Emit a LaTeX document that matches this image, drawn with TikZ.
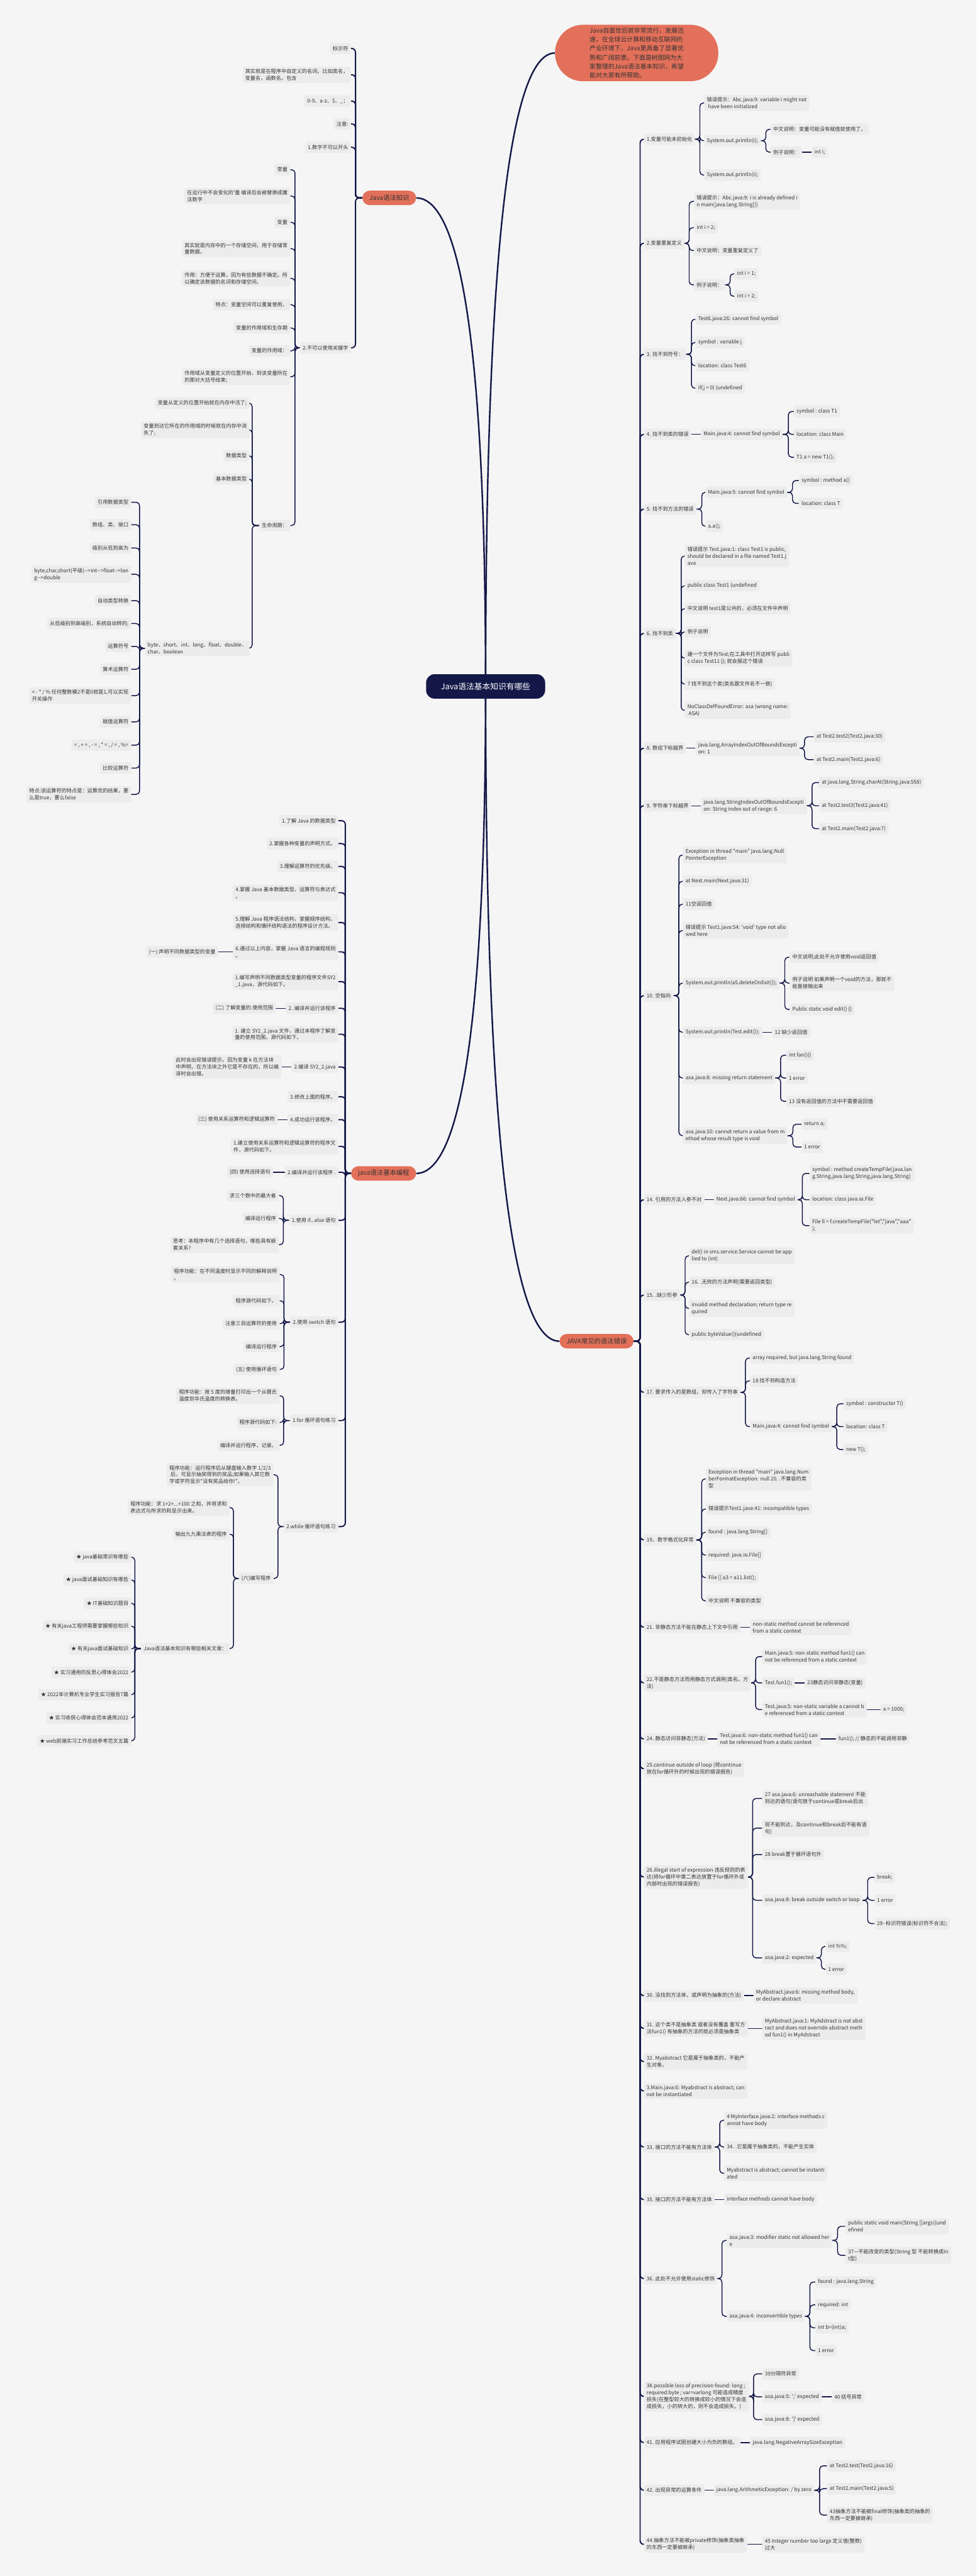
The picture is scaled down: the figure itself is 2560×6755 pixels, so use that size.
\documentclass[tikz,border=0pt]{standalone}
\usepackage{fontspec}
\newfontfamily\cjkf{Noto Sans CJK SC}
\usetikzlibrary{backgrounds,calc}
\definecolor{bgc}{HTML}{F5F5F5}
\definecolor{boxc}{HTML}{ECECEC}
\definecolor{txt}{HTML}{333333}
\definecolor{navy}{HTML}{141848}
\definecolor{coral}{HTML}{E3705A}
\newcommand\nodefont{\cjkf\fontsize{13.5pt}{18pt}\selectfont}
\newcommand\mnfont{\cjkf\fontsize{17pt}{21pt}\selectfont}
\newcommand\rtfont{\cjkf\fontsize{21pt}{26pt}\selectfont}
\newcommand\cofont{\cjkf\fontsize{16.3pt}{23.5pt}\selectfont}
\newcommand\sq{\textquotesingle}
\tikzset{
 box/.style={fill=boxc, rounded corners=5pt, inner xsep=7pt, inner ysep=6pt, minimum height=30pt, align=left, text=txt, font=\nodefont},
 R/.style={box, anchor=west},
 L/.style={box, anchor=east},
 mainnode/.style={fill=coral, rounded corners=19pt, minimum height=38pt, inner xsep=18pt, text=txt, font=\mnfont},
 rootnode/.style={fill=navy, rounded corners=22pt, minimum width=312pt, minimum height=64pt, text=white, font=\rtfont},
 callout/.style={fill=coral, rounded corners=73pt, minimum width=428pt, minimum height=148pt, align=left, text=txt, font=\cofont},
 conn/.style={draw=navy, line width=2.4pt, rounded corners=9pt},
 mconn/.style={draw=navy, line width=3.2pt, rounded corners=10pt},
 rootconn/.style={draw=navy, line width=4pt},
}
\begin{document}
\begin{tikzpicture}[x=1pt,y=-1pt]
\useasboundingbox (0,0) rectangle (2560,6755);
\begin{scope}[on background layer]
\fill[bgc] (0,0) rectangle (2560,6755);
\end{scope}

% ---------------- root and main nodes
\node[rootnode] (root) at (1273,1800) {Java语法基本知识有哪些};
\node[callout] (co) at (1669,139) {Java自面世后就非常流行，发展迅\\速，在全球云计算和移动互联网的\\产业环境下，Java更具备了显著优\\势和广阔前景。下面是树图网为大\\家整理的Java语法基本知识，希望\\能对大家有所帮助。};
\node[mainnode, anchor=east] (A) at (1091,519) {Java语法知识};
\node[mainnode, anchor=east] (B) at (1091,3077) {java语法基本编程};
\node[mainnode, anchor=east] (C) at (1661,3517) {JAVA常见的语法错误};

% ---------------- branch A
\node[L] (a1) at (920,127) {标示符};
\node[L] (a2) at (920,196) {其实就是在程序中自定义的名词。比如类名，\\变量名，函数名。包含};
\node[L] (a3) at (920,265) {0-9、a-z、\$、\_；};
\node[L] (a4) at (920,325) {注意:};
\node[L] (a5) at (920,386) {1.数字不可以开头};
\node[L] (a6) at (920,912) {2.不可以使用关键字};
\node[L] (b1) at (761,445) {常量};
\node[L] (b2) at (761,514) {在运行中不会变化的\sq 量 编译后会被替换成魔\\法数字};
\node[L] (b3) at (761,583) {变量};
\node[L] (b4) at (761,652) {其实就是内存中的一个存储空间，用于存储常\\量数据。};
\node[L] (b5) at (761,730) {作用：方便于运算。因为有些数据不确定。所\\以确定该数据的名词和存储空间。};
\node[L] (b6) at (761,799) {特点：变量空间可以重复使用。};
\node[L] (b7) at (761,860) {变量的作用域和生存期};
\node[L] (b8) at (761,920) {变量的作用域：};
\node[L] (b9) at (761,988) {作用域从变量定义的位置开始，到该变量所在\\的那对大括号结束;};
\node[L] (b10) at (761,1378) {生命周期：};
\node[L] (c1) at (654,1057) {变量从定义的位置开始就在内存中活了;};
\node[L] (c2) at (654,1127) {变量到达它所在的作用域的时候就在内存中消\\失了;};
\node[L] (c3) at (654,1195) {数据类型};
\node[L] (c4) at (654,1256) {基本数据类型};
\node[L] (c5) at (654,1700) {byte、short、int、long、float、double、\\char、boolean};
\node[L] (d1) at (344,1317) {引用数据类型};
\node[L] (d2) at (344,1376) {数组、类、接口};
\node[L] (d3) at (344,1437) {级别从低到高为};
\node[L] (d4) at (344,1506) {byte,char,short(平级)-{}->int-{}->float-{}->lon\\g-{}->double};
\node[L] (d5) at (344,1575) {自动类型转换};
\node[L] (d6) at (344,1635) {从低级别到高级别，系统自动转的;};
\node[L] (d7) at (344,1695) {运算符号};
\node[L] (d8) at (344,1755) {算术运算符};
\node[L] (d9) at (344,1824) {+ - * / \% 任何整数模2不是0就是1,可以实现\\开关操作};
\node[L] (d10) at (344,1893) {赋值运算符};
\node[L] (d11) at (344,1954) {= , + = , - = , * = , / = , \%=};
\node[L] (d12) at (344,2014) {比较运算符};
\node[L] (d13) at (344,2083) {特点:该运算符的特点是：运算完的结果，要\\么是true，要么false};

% ---------------- branch B
\node[L] (e1) at (887,2152) {1.了解 Java 的数据类型};
\node[L] (e2) at (887,2212) {2.掌握各种变量的声明方式。};
\node[L] (e3) at (887,2272) {3.理解运算符的优先级。};
\node[L] (e4) at (887,2341) {4.掌握 Java 基本数据类型、运算符与表达式\\。};
\node[L] (e5) at (887,2419) {5.理解 Java 程序语法结构，掌握顺序结构、\\选择结构和循环结构语法的程序设计方法。};
\node[L] (e6) at (887,2496) {6.通过以上内容，掌握 Java 语言的编程规则\\。};
\node[L] (f6) at (572,2496) {(一) 声明不同数据类型的变量};
\node[L] (e7) at (887,2574) {1.编写声明不同数据类型变量的程序文件SY2\\\_1.java，源代码如下。};
\node[L] (e8) at (887,2644) {2. 编译并运行该程序};
\node[L] (f8) at (723,2644) {(二) 了解变量的.使用范围};
\node[L] (e9) at (887,2712) {1. 建立 SY2\_2.java 文件，通过本程序了解变\\量的使用范围，源代码如下。};
\node[L] (e10) at (887,2798) {2.编译 SY2\_2.java};
\node[L] (f10) at (738,2798) {此时会出现错误提示。因为变量 k 在方法块\\中声明，在方法块之外它是不存在的，所以编\\译时会出错。};
\node[L] (e11) at (887,2876) {3.修改上面的程序。};
\node[L] (e12) at (887,2936) {4.成功运行该程序。};
\node[L] (f12) at (728,2936) {(三) 使用关系运算符和逻辑运算符};
\node[L] (e13) at (887,3006) {1.建立使用关系运算符和逻辑运算符的程序文\\件，源代码如下。};
\node[L] (e14) at (887,3074) {2.编译并运行该程序 .};
\node[L] (f14) at (716,3074) {(四) 使用选择语句};
\node[L] (e15) at (887,3200) {1.使用 if...else 语句};
\node[L] (g1) at (731,3135) {求三个数中的最大者};
\node[L] (g2) at (731,3195) {编译运行程序};
\node[L] (g3) at (731,3264) {思考：本程序中有几个选择语句，哪些具有嵌\\套关系?};
\node[L] (e16) at (887,3467) {2.使用 switch 语句};
\node[L] (h1) at (733,3342) {程序功能：在不同温度时显示不同的解释说明\\。};
\node[L] (h2) at (733,3411) {程序源代码如下。};
\node[L] (h3) at (733,3471) {注意三目运算符的使用};
\node[L] (h4) at (733,3531) {编译运行程序};
\node[L] (h5) at (733,3591) {(五) 使用循环语句};
\node[L] (e17) at (887,3725) {1.for 循环语句练习};
\node[L] (i1) at (733,3660) {程序功能：按 5 度的增量打印出一个从摄氏\\温度到华氏温度的转换表。};
\node[L] (i2) at (733,3730) {程序源代码如下:};
\node[L] (i3) at (733,3790) {编译并运行程序，记录。};
\node[L] (e18) at (887,4003) {2.while 循环语句练习};
\node[L] (j1) at (717,3867) {程序功能：运行程序后从键盘输入数字 1/2/3\\~后，可显示抽奖得到的奖品;如果输入其它数\\字或字符显示"没有奖品给你!"。};
\node[L] (j2) at (717,4139) {(六)编写程序};
\node[L] (k1) at (602,3953) {程序功能：求 1+2+...+100 之和，并将求和\\表达式与所求的和显示出来。};
\node[L] (k2) at (602,4023) {输出九九乘法表的程序};
\node[L] (k3) at (602,4323) {Java语法基本知识有哪些相关文章：};
\node[L] (l1) at (344,4083) {★ java基础常识有哪些};
\node[L] (l2) at (344,4143) {★ java面试基础知识有哪些};
\node[L] (l3) at (344,4204) {★ IT基础知识题目};
\node[L] (l4) at (344,4264) {★ 有关java工程师需要掌握哪些知识};
\node[L] (l5) at (344,4324) {★ 有关java面试基础知识};
\node[L] (l6) at (344,4385) {★ 实习通用的反思心得体会2022};
\node[L] (l7) at (344,4444) {★ 2022年计算机专业学生实习报告7篇};
\node[L] (l8) at (344,4505) {★ 实习收获心得体会范本通用2022};
\node[L] (l9) at (344,4565) {★ web前端实习工作总结参考范文五篇};

% ---------------- branch C
\node[R] (q1) at (1688,365) {1.变量可能未初始化};
\node[R] (q1a) at (1846,270) {错误提示：Abc.java:9: variable i might not\\~have been initialized};
\node[R] (q1b) at (1846,369) {System.out.println(i);};
\node[R] (q1c) at (1846,459) {System.out.println(i);};
\node[R] (q1b1) at (2020,339) {中文说明：变量可能没有赋值就使用了。};
\node[R] (q1b2) at (2020,399) {例子说明：};
\node[R] (q1b2a) at (2128,399) {int i;};
\node[R] (q2) at (1688,638) {2.变量重复定义};
\node[R] (q2a) at (1819,528) {错误提示：Abc.java:9: i is already defined i\\n main(java.lang.String[])};
\node[R] (q2b) at (1819,597) {int i = 2;};
\node[R] (q2c) at (1819,657) {中文说明：变量重复定义了};
\node[R] (q2d) at (1819,747) {例子说明：};
\node[R] (q2d1) at (1925,718) {int i = 1;};
\node[R] (q2d2) at (1925,777) {int i = 2;};
\node[R] (q3) at (1688,929) {3. 找不到符号：};
\node[R] (q3a) at (1823,837) {Test6.java:26: cannot find symbol};
\node[R] (q3b) at (1823,898) {symbol : variable j};
\node[R] (q3c) at (1823,959) {location: class Test6};
\node[R] (q3d) at (1823,1018) {if(j < 0) \{undefined};
\node[R] (q4) at (1688,1139) {4. 找不到类的错误};
\node[R] (q4a) at (1837,1139) {Main.java:4: cannot find symbol};
\node[R] (q4a1) at (2081,1079) {symbol : class T1};
\node[R] (q4a2) at (2081,1139) {location: class Main};
\node[R] (q4a3) at (2081,1199) {T1 a = new T1();};
\node[R] (q5) at (1688,1335) {5. 找不到方法的错误};
\node[R] (q5a) at (1849,1291) {Main.java:5: cannot find symbol};
\node[R] (q5a1) at (2094,1260) {symbol : method a()};
\node[R] (q5a2) at (2094,1320) {location: class T};
\node[R] (q5b) at (1849,1380) {a.a();};
\node[R] (q6) at (1688,1661) {6. 找不到类};
\node[R] (q6a) at (1795,1458) {错误提示 Test.java:1: class Test1 is public,\\should be declared in a file named Test1.j\\ava};
\node[R] (q6b) at (1795,1536) {public class Test1 \{undefined};
\node[R] (q6c) at (1795,1596) {中文说明 test1是公共的，必须在文件中声明};
\node[R] (q6d) at (1795,1657) {例子说明};
\node[R] (q6e) at (1795,1726) {建一个文件为Test;在工具中打开这样写 publi\\c class Test11 \{\}; 就会报这个错误};
\node[R] (q6f) at (1795,1794) {7 找不到这个类(类名跟文件名不一致)};
\node[R] (q6g) at (1795,1863) {NoClassDefFoundError: asa (wrong name:\\~ASA)};
\node[R] (q8) at (1688,1962) {8. 数组下标越界};
\node[R] (q8a) at (1823,1962) {java.lang.ArrayIndexOutOfBoundsExcepti\\on: 1};
\node[R] (q8a1) at (2133,1932) {at Test2.test2(Test2.java:30)};
\node[R] (q8a2) at (2133,1992) {at Test2.main(Test2.java:6)};
\node[R] (q9) at (1688,2113) {9. 字符串下标越界};
\node[R] (q9a) at (1837,2113) {java.lang.StringIndexOutOfBoundsExcepti\\on: String index out of range: 6};
\node[R] (q9a1) at (2147,2052) {at java.lang.String.charAt(String.java:558)};
\node[R] (q9a2) at (2147,2113) {at Test2.test3(Test2.java:41)};
\node[R] (q9a3) at (2147,2173) {at Test2.main(Test2.java:7)};
\node[R] (q10) at (1688,2611) {10. 空指向};
\node[R] (q10a) at (1790,2242) {Exception in thread "main" java.lang.Null\\PointerException};
\node[R] (q10b) at (1790,2311) {at Next.main(Next.java:31)};
\node[R] (q10c) at (1790,2371) {11空返回值};
\node[R] (q10d) at (1790,2440) {错误提示 Test1.java:54: \sq void\sq\ type not allo\\wed here};
\node[R] (q10e) at (1790,2578) {System.out.println(a5.deleteOnExit());};
\node[R] (q10e1) at (2070,2510) {中文说明;此处不允许使用void返回值};
\node[R] (q10e2) at (2070,2578) {例子说明 如果声明一个void的方法，那就不\\能直接输出来};
\node[R] (q10e3) at (2070,2647) {Public static void edit() \{\}};
\node[R] (q10f) at (1790,2707) {System.out.println(Test.edit());};
\node[R] (q10f1) at (2024,2707) {12 缺少返回值};
\node[R] (q10g) at (1790,2827) {asa.java:8: missing return statement};
\node[R] (q10g1) at (2061,2767) {int fan()\{\}};
\node[R] (q10g2) at (2061,2827) {1 error};
\node[R] (q10g3) at (2061,2888) {13 没有返回值的方法中不需要返回值};
\node[R] (q10h) at (1790,2978) {asa.java:10: cannot return a value from m\\ethod whose result type is void};
\node[R] (q10h1) at (2101,2948) {return a;};
\node[R] (q10h2) at (2101,3008) {1 error};
\node[R] (q14) at (1688,3146) {14. 引用的方法入参不对};
\node[R] (q14a) at (1871,3146) {Next.java:66: cannot find symbol};
\node[R] (q14a1) at (2122,3077) {symbol : method createTempFile(java.lan\\g.String,java.lang.String,java.lang.String)};
\node[R] (q14a2) at (2122,3146) {location: class java.io.File};
\node[R] (q14a3) at (2122,3214) {File ll = f.createTempFile("let","java","aaa"\\);};
\node[R] (q15) at (1688,3396) {15. .缺少形参};
\node[R] (q15a) at (1806,3293) {del() in sms.service.Service cannot be app\\lied to (int)};
\node[R] (q15b) at (1806,3362) {16. .无效的方法声明(需要返回类型)};
\node[R] (q15c) at (1806,3431) {invalid method declaration; return type re\\quired};
\node[R] (q15d) at (1806,3500) {public byteValue()\{undefined};
\node[R] (q17) at (1688,3651) {17. 要求传入的是数组，却传入了字符串};
\node[R] (q17a) at (1966,3561) {array required, but java.lang.String found};
\node[R] (q17b) at (1966,3621) {18 找不到构造方法};
\node[R] (q17c) at (1966,3741) {Main.java:4: cannot find symbol};
\node[R] (q17c1) at (2211,3681) {symbol : constructor T()};
\node[R] (q17c2) at (2211,3741) {location: class T};
\node[R] (q17c3) at (2211,3801) {new T();};
\node[R] (q19) at (1688,4038) {19、数字格式化异常};
\node[R] (q19a) at (1850,3878) {Exception in thread "main" java.lang.Num\\berFormatException: null 20. .不兼容的类\\型};
\node[R] (q19b) at (1850,3957) {错误提示Test1.java:41: incompatible types};
\node[R] (q19c) at (1850,4018) {found : java.lang.String[]};
\node[R] (q19d) at (1850,4078) {required: java.io.File[]};
\node[R] (q19e) at (1850,4137) {File [] a3 = a11.list();};
\node[R] (q19f) at (1850,4198) {中文说明 不兼容的类型};
\node[R] (q21) at (1688,4267) {21. 非静态方法不能在静态上下文中引用};
\node[R] (q21a) at (1966,4267) {non-static method cannot be referenced\\from a static context};
\node[R] (q22) at (1688,4413) {22.不是静态方法而用静态方式调用(类名。方\\法)};
\node[R] (q22a) at (1998,4344) {Main.java:5: non-static method fun1() can\\not be referenced from a static context};
\node[R] (q22b) at (1998,4413) {Test.fun1();};
\node[R] (q22b1) at (2109,4413) {23静态访问非静态(变量)};
\node[R] (q22c) at (1998,4483) {Test.java:5: non-static variable a cannot b\\e referenced from a static context};
\node[R] (q22c1) at (2308,4483) {a = 1000;};
\node[R] (q24) at (1688,4560) {24. 静态访问非静态(方法)};
\node[R] (q24a) at (1880,4560) {Test.java:6: non-static method fun1() can\\not be referenced from a static context};
\node[R] (q24a1) at (2191,4560) {fun1(); // 静态的不能调用非静};
\node[R] (q25) at (1688,4638) {25.continue outside of loop (将continue\\放在for循环外的时候出现的错误报告)};
\node[R] (q26) at (1688,4922) {26.illegal start of expression 违反规则的表\\达(将for循环中第二表达放置于for循环外或\\内部时出现的错误报告)};
\node[R] (q26a) at (1998,4716) {27 asa.java:6: unreachable statement 不能\\到达的语句(语句放于continue或break后出};
\node[R] (q26b) at (1998,4794) {现不能到达，及continue和break后不能有语\\句)};
\node[R] (q26c) at (1998,4863) {28 break置于循环语句外};
\node[R] (q26d) at (1998,4983) {asa.java:8: break outside switch or loop};
\node[R] (q26d1) at (2292,4923) {break;};
\node[R] (q26d2) at (2292,4983) {1 error};
\node[R] (q26d3) at (2292,5044) {29- 标识符错误(标识符不合法);};
\node[R] (q26e) at (1998,5134) {asa.java:2: expected};
\node[R] (q26e1) at (2164,5104) {int \%\%;};
\node[R] (q26e2) at (2164,5164) {1 error};
\node[R] (q30) at (1688,5233) {30. 没找到方法体，或声明为抽象的(方法)};
\node[R] (q30a) at (1975,5233) {MyAbstract.java:6: missing method body,\\or declare abstract};
\node[R] (q31) at (1688,5319) {31. 这个类不是抽象类 或者没有覆盖 重写方\\法fun1() 有抽象的方法的就必须是抽象类};
\node[R] (q31a) at (1998,5319) {MyAbstract.java:1: MyAdstract is not abst\\ract and does not override abstract meth\\od fun1() in MyAdstract};
\node[R] (q32) at (1688,5406) {32. Myabstract 它是属于抽象类的，不能产\\生对象。};
\node[R] (q32m) at (1688,5483) {3.Main.java:6: Myabstract is abstract; can\\not be instantiated};
\node[R] (q33) at (1688,5630) {33. 接口的方法不能有方法体};
\node[R] (q33a) at (1898,5560) {4 MyInterface.java:2: interface methods c\\annot have body};
\node[R] (q33b) at (1898,5630) {34. .它是属于抽象类的，不能产生实体};
\node[R] (q33c) at (1898,5699) {Myabstract is abstract; cannot be instanti\\ated};
\node[R] (q35) at (1688,5768) {35. 接口的方法不能有方法体};
\node[R] (q35a) at (1898,5768) {interface methods cannot have body};
\node[R] (q36) at (1688,5975) {36. 此处不允许使用static修饰};
\node[R] (q36a) at (1905,5875) {asa.java:3: modifier static not allowed her\\e};
\node[R] (q36a1) at (2216,5838) {public static void main(String []args)\{und\\efined};
\node[R] (q36a2) at (2216,5914) {37—不能改变的类型(String 型 不能转换成In\\t型)};
\node[R] (q36b) at (1905,6074) {asa.java:4: inconvertible types};
\node[R] (q36b1) at (2137,5984) {found : java.lang.String};
\node[R] (q36b2) at (2137,6044) {required: int};
\node[R] (q36b3) at (2137,6104) {int b=(int)a;};
\node[R] (q36b4) at (2137,6164) {1 error};
\node[R] (q38) at (1688,6284) {38.possible loss of precision found: long ;\\required:byte ; var=varlong 可能造成精度\\损失(在整型较大的转换成较小的情况下会造\\成损失，小的转大的，则不会造成损失。)};
\node[R] (q38a) at (1998,6225) {39分隔符异常};
\node[R] (q38b) at (1998,6285) {asa.java:5: \sq;\sq\ expected};
\node[R] (q38b1) at (2180,6285) {40 括号异常};
\node[R] (q38c) at (1998,6345) {asa.java:8: \sq\}\sq\ expected};
\node[R] (q41) at (1688,6405) {41. 应用程序试图创建大小为负的数组。};
\node[R] (q41a) at (1966,6405) {java.lang.NegativeArraySizeException};
\node[R] (q42) at (1688,6530) {42. 出现异常的运算条件};
\node[R] (q42a) at (1871,6530) {java.lang.ArithmeticException: / by zero};
\node[R] (q42a1) at (2168,6466) {at Test2.test(Test2.java:16)};
\node[R] (q42a2) at (2168,6526) {at Test2.main(Test2.java:5)};
\node[R] (q42a3) at (2168,6595) {43抽象方法不能被final修饰(抽象类的抽象的\\东西一定要被继承)};
\node[R] (q44) at (1688,6672) {44.抽象方法不能被private修饰(抽象类抽象\\的东西一定要被继承)};
\node[R] (q44a) at (1998,6672) {45 Integer number too large 定义值(整数)\\过大};

% ---------------- connectors
\begin{scope}[on background layer]
\foreach \t/\a in {co/west, A/east, B/east, C/west}{
  \draw[rootconn] (root.center) .. controls ($(root.center)!0.667!(root.center |- \t.\a)$) and ($(\t.\a)!0.667!(root.center |- \t.\a)$) .. (\t.\a);
}
\foreach \c in {a1,a2,a3,a4,a5,a6} \draw[mconn] (A.west) -- ++(-18,0) |- (\c.east);
\foreach \c in {b1,b2,b3,b4,b5,b6,b7,b8,b9,b10} \draw[conn] (a6.west) -- ++(-13,0) |- (\c.east);
\foreach \c in {c1,c2,c3,c4,c5} \draw[conn] (b10.west) -- ++(-18,0) |- (\c.east);
\foreach \c in {d1,d2,d3,d4,d5,d6,d7,d8,d9,d10,d11,d12,d13} \draw[conn] (c5.west) -- ++(-14,0) |- (\c.east);
\foreach \c in {e1,e2,e3,e4,e5,e6,e7,e8,e9,e10,e11,e12,e13,e14,e15,e16,e17,e18} \draw[mconn] (B.west) -- ++(-15,0) |- (\c.east);
\draw[conn] (e6.west) -- (f6.east);
\draw[conn] (e8.west) -- (f8.east);
\draw[conn] (e10.west) -- (f10.east);
\draw[conn] (e12.west) -- (f12.east);
\draw[conn] (e14.west) -- (f14.east);
\foreach \c in {g1,g2,g3} \draw[conn] (e15.west) -- ++(-15,0) |- (\c.east);
\foreach \c in {h1,h2,h3,h4,h5} \draw[conn] (e16.west) -- ++(-16,0) |- (\c.east);
\foreach \c in {i1,i2,i3} \draw[conn] (e17.west) -- ++(-16,0) |- (\c.east);
\foreach \c in {j1,j2} \draw[conn] (e18.west) -- ++(-15,0) |- (\c.east);
\foreach \c in {k1,k2,k3} \draw[conn] (j2.west) -- ++(-14,0) |- (\c.east);
\foreach \c in {l1,l2,l3,l4,l5,l6,l7,l8,l9} \draw[conn] (k3.west) -- ++(-16,0) |- (\c.east);
\foreach \c in {q1,q2,q3,q4,q5,q6,q8,q9,q10,q14,q15,q17,q19,q21,q22,q24,q25,q26,q30,q31,q32,q32m,q33,q35,q36,q38,q41,q42,q44} \draw[mconn] (C.east) -- ++(17,0) |- (\c.west);
\foreach \c in {q1a,q1b,q1c} \draw[conn] (q1.east) -- ++(13,0) |- (\c.west);
\foreach \c in {q1b1,q1b2} \draw[conn] (q1b.east) -- ++(13,0) |- (\c.west);
\draw[conn] (q1b2.east) -- (q1b2a.west);
\foreach \c in {q2a,q2b,q2c,q2d} \draw[conn] (q2.east) -- ++(12,0) |- (\c.west);
\foreach \c in {q2d1,q2d2} \draw[conn] (q2d.east) -- ++(13,0) |- (\c.west);
\foreach \c in {q3a,q3b,q3c,q3d} \draw[conn] (q3.east) -- ++(14,0) |- (\c.west);
\draw[conn] (q4.east) -- (q4a.west);
\foreach \c in {q4a1,q4a2,q4a3} \draw[conn] (q4a.east) -- ++(15,0) |- (\c.west);
\foreach \c in {q5a,q5b} \draw[conn] (q5.east) -- ++(14,0) |- (\c.west);
\foreach \c in {q5a1,q5a2} \draw[conn] (q5a.east) -- ++(14,0) |- (\c.west);
\foreach \c in {q6a,q6b,q6c,q6d,q6e,q6f,q6g} \draw[conn] (q6.east) -- ++(14,0) |- (\c.west);
\draw[conn] (q8.east) -- (q8a.west);
\foreach \c in {q8a1,q8a2} \draw[conn] (q8a.east) -- ++(13,0) |- (\c.west);
\draw[conn] (q9.east) -- (q9a.west);
\foreach \c in {q9a1,q9a2,q9a3} \draw[conn] (q9a.east) -- ++(14,0) |- (\c.west);
\foreach \c in {q10a,q10b,q10c,q10d,q10e,q10f,q10g,q10h} \draw[conn] (q10.east) -- ++(14,0) |- (\c.west);
\foreach \c in {q10e1,q10e2,q10e3} \draw[conn] (q10e.east) -- ++(14,0) |- (\c.west);
\draw[conn] (q10f.east) -- (q10f1.west);
\foreach \c in {q10g1,q10g2,q10g3} \draw[conn] (q10g.east) -- ++(14,0) |- (\c.west);
\foreach \c in {q10h1,q10h2} \draw[conn] (q10h.east) -- ++(14,0) |- (\c.west);
\draw[conn] (q14.east) -- (q14a.west);
\foreach \c in {q14a1,q14a2,q14a3} \draw[conn] (q14a.east) -- ++(12,0) |- (\c.west);
\foreach \c in {q15a,q15b,q15c,q15d} \draw[conn] (q15.east) -- ++(13,0) |- (\c.west);
\foreach \c in {q17a,q17b,q17c} \draw[conn] (q17.east) -- ++(13,0) |- (\c.west);
\foreach \c in {q17c1,q17c2,q17c3} \draw[conn] (q17c.east) -- ++(13,0) |- (\c.west);
\foreach \c in {q19a,q19b,q19c,q19d,q19e,q19f} \draw[conn] (q19.east) -- ++(14,0) |- (\c.west);
\draw[conn] (q21.east) -- (q21a.west);
\foreach \c in {q22a,q22b,q22c} \draw[conn] (q22.east) -- ++(12,0) |- (\c.west);
\draw[conn] (q22b.east) -- (q22b1.west);
\draw[conn] (q22c.east) -- (q22c1.west);
\draw[conn] (q24.east) -- (q24a.west);
\draw[conn] (q24a.east) -- (q24a1.west);
\foreach \c in {q26a,q26b,q26c,q26d,q26e} \draw[conn] (q26.east) -- ++(12,0) |- (\c.west);
\foreach \c in {q26d1,q26d2,q26d3} \draw[conn] (q26d.east) -- ++(14,0) |- (\c.west);
\foreach \c in {q26e1,q26e2} \draw[conn] (q26e.east) -- ++(13,0) |- (\c.west);
\draw[conn] (q30.east) -- (q30a.west);
\draw[conn] (q31.east) -- (q31a.west);
\foreach \c in {q33a,q33b,q33c} \draw[conn] (q33.east) -- ++(13,0) |- (\c.west);
\draw[conn] (q35.east) -- (q35a.west);
\foreach \c in {q36a,q36b} \draw[conn] (q36.east) -- ++(12,0) |- (\c.west);
\foreach \c in {q36a1,q36a2} \draw[conn] (q36a.east) -- ++(14,0) |- (\c.west);
\foreach \c in {q36b1,q36b2,q36b3,q36b4} \draw[conn] (q36b.east) -- ++(13,0) |- (\c.west);
\foreach \c in {q38a,q38b,q38c} \draw[conn] (q38.east) -- ++(12,0) |- (\c.west);
\draw[conn] (q38b.east) -- (q38b1.west);
\draw[conn] (q41.east) -- (q41a.west);
\draw[conn] (q42.east) -- (q42a.west);
\foreach \c in {q42a1,q42a2,q42a3} \draw[conn] (q42a.east) -- ++(14,0) |- (\c.west);
\draw[conn] (q44.east) -- (q44a.west);
\end{scope}
\end{tikzpicture}
\end{document}
